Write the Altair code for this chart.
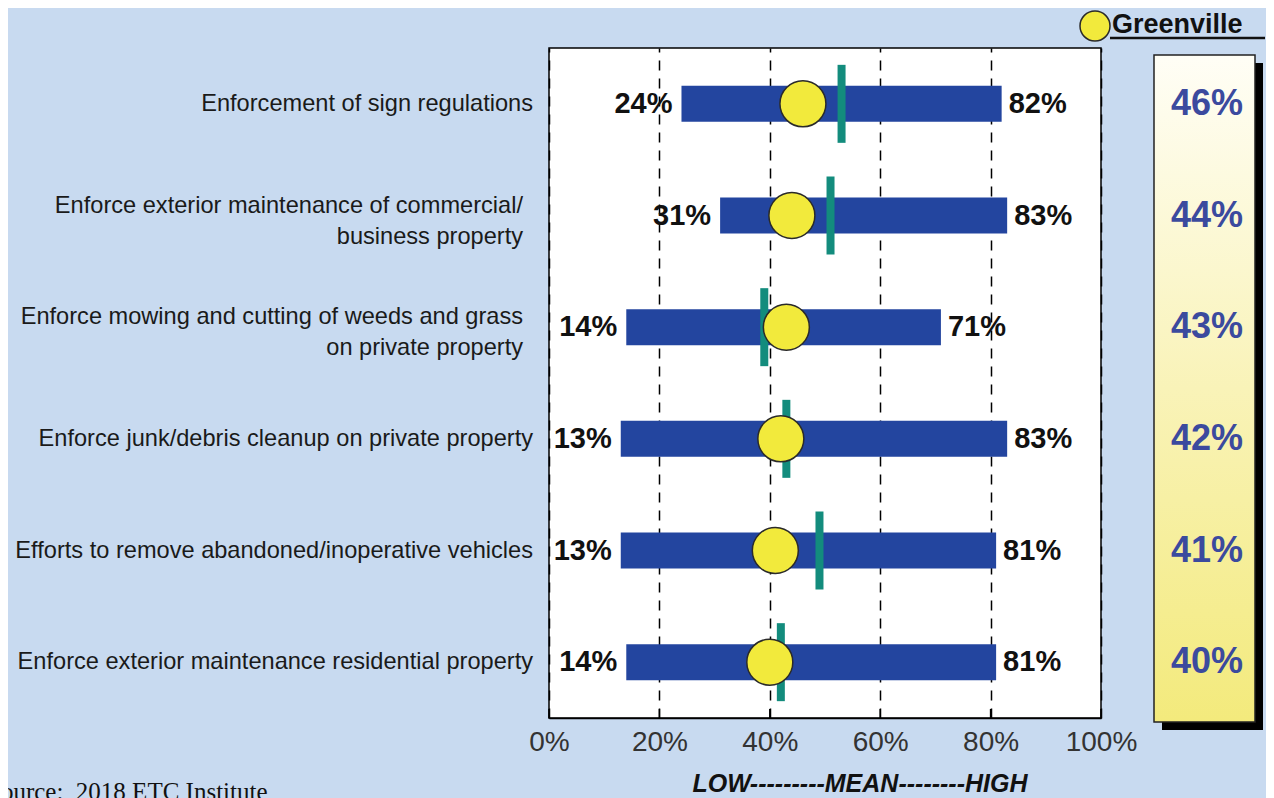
import altair as alt
import pandas as pd

categories = [
    "Enforcement of sign regulations",
    "Enforce exterior maintenance of commercial/\nbusiness property",
    "Enforce mowing and cutting of weeds and grass\non private property",
    "Enforce junk/debris cleanup on private property",
    "Efforts to remove abandoned/inoperative vehicles",
    "Enforce exterior maintenance residential property",
]
low = [24, 31, 14, 13, 13, 14]
high = [82, 83, 71, 83, 81, 81]
mean = [53, 51, 39, 43, 49, 42]
greenville = [46, 44, 43, 42, 41, 40]
x_ticks = [0, 20, 40, 60, 80, 100]
legend_label = "Greenville"
axis_caption = "LOW---------MEAN--------HIGH"
source_note = "Source:\u00a0 2018 ETC Institute"

BG = "#c8daf0"
BAR = "#23459f"
TEAL = "#138c7d"
YELLOW = "#f2ea3c"
VALBLUE = "#3b4a9e"
FONT = "Liberation Sans"

df = pd.DataFrame({
    "cat": categories, "low": low, "high": high, "mean": mean, "gv": greenville,
})
df["low_lbl"] = df["low"].astype(str) + "%"
df["high_lbl"] = df["high"].astype(str) + "%"
df["gv_lbl"] = df["gv"].astype(str) + "%"
ticks_df = pd.DataFrame({"t": x_ticks})

xscale = alt.Scale(domain=[0, 100], nice=False, zero=False)
xaxis = alt.Axis(values=x_ticks, labelExpr="datum.value + '%'", title=None,
                 grid=True, gridDash=[10, 8], gridColor="black", gridWidth=1.5,
                 gridOpacity=1, ticks=False, domainColor="black", domainWidth=1.5,
                 labelFont=FONT, labelFontSize=28, labelColor="#333333",
                 labelPadding=10, labelFlush=False, labelOverlap=False)


def X(f):
    return alt.X(f, type="quantitative", scale=xscale, axis=xaxis)


Y = alt.Y("cat:N", sort=categories, axis=None,
          scale=alt.Scale(domain=categories, paddingInner=0.678, paddingOuter=0.339))

one = alt.Data(values=[{}])
base = alt.Chart(df)

shadow = alt.Chart(one).mark_rect(fill="black").encode(
    x=alt.value(613), x2=alt.value(714), y=alt.value(15), y2=alt.value(682))
box = alt.Chart(one).mark_rect(
    fill=alt.Gradient(gradient="linear", x1=0, x2=0, y1=0, y2=1,
                      stops=[alt.GradientStop(color="#fffef6", offset=0),
                             alt.GradientStop(color="#f9f3b8", offset=0.5),
                             alt.GradientStop(color="#f3ea7c", offset=1)]),
    stroke="#222222", strokeWidth=1.5).encode(
    x=alt.value(605), x2=alt.value(706), y=alt.value(7), y2=alt.value(674))

inner_ticks = alt.Chart(ticks_df).mark_rule(color="black", strokeWidth=1.5).encode(
    x=X("t"), y=alt.value(661), y2=alt.value(670))

bars = base.mark_bar(color=BAR).encode(x=X("low"), x2=alt.X2("high"), y=Y)
mean_ticks = base.mark_tick(color=TEAL, thickness=8, size=78, orient="vertical",
                            opacity=1).encode(x=X("mean"), y=Y)
dots = base.mark_circle(size=2116, color=YELLOW, opacity=1, stroke="#2a2a2a",
                        strokeWidth=1.5).encode(x=X("gv"), y=Y)
low_txt = base.mark_text(align="right", baseline="middle", dx=-9, font=FONT,
                         fontSize=29, fontWeight="bold", color="#111111").encode(
    x=X("low"), y=Y, text="low_lbl:N")
high_txt = base.mark_text(align="left", baseline="middle", dx=7, font=FONT,
                          fontSize=29, fontWeight="bold", color="#111111").encode(
    x=X("high"), y=Y, text="high_lbl:N")
cat_single = base.transform_filter("indexof(datum.cat, '\\n') < 0").mark_text(
    align="right", baseline="middle", font=FONT, fontSize=23.6,
    color="#1a1a1a").encode(x=alt.value(-16), y=Y, text="cat:N")
cat_multi = base.transform_filter("indexof(datum.cat, '\\n') >= 0").mark_text(
    align="right", baseline="middle", lineBreak="\n", lineHeight=31, dy=-10,
    font=FONT, fontSize=23.6, color="#1a1a1a").encode(
    x=alt.value(-26), y=Y, text="cat:N")
gv_txt = base.mark_text(align="center", baseline="middle", font=FONT, fontSize=36,
                        fontWeight="bold", color=VALBLUE).encode(
    x=alt.value(658), y=Y, text="gv_lbl:N")

leg_dot = alt.Chart(one).mark_circle(size=900, color=YELLOW, opacity=1,
                                     stroke="#2a2a2a", strokeWidth=1.5).encode(
    x=alt.value(546), y=alt.value(-22))
leg_txt = alt.Chart(one).mark_text(align="left", baseline="alphabetic", font=FONT,
                                   fontSize=27, fontWeight="bold",
                                   color="#111111").encode(
    x=alt.value(563), y=alt.value(-15), text=alt.value(legend_label))
leg_line = alt.Chart(one).mark_rule(color="#111111", strokeWidth=2.5).encode(
    x=alt.value(561), x2=alt.value(716), y=alt.value(-10))

caption = alt.Chart(one).mark_text(align="center", baseline="middle", font=FONT,
                                   fontSize=25, fontWeight="bold", fontStyle="italic",
                                   color="#111111").encode(
    x=alt.value(311), y=alt.value(736), text=alt.value(axis_caption))
source = alt.Chart(one).mark_text(align="left", baseline="alphabetic",
                                  font="Liberation Serif", fontSize=25,
                                  color="#111111").encode(
    x=alt.value(-562), y=alt.value(752), text=alt.value(source_note))

chart = alt.layer(
    shadow, box, inner_ticks, bars, mean_ticks, dots, low_txt, high_txt,
    cat_single, cat_multi, gv_txt, leg_dot, leg_txt, leg_line, caption, source
).properties(
    width=552, height=670,
    autosize=alt.AutoSizeParams(type="none"),
    padding={"left": 541, "top": 40, "right": 165, "bottom": 80},
    background=BG,
).configure_view(stroke="black", strokeWidth=1.5, fill="white")

chart.save("out.html", embed_options={"renderer": "svg", "actions": False})
